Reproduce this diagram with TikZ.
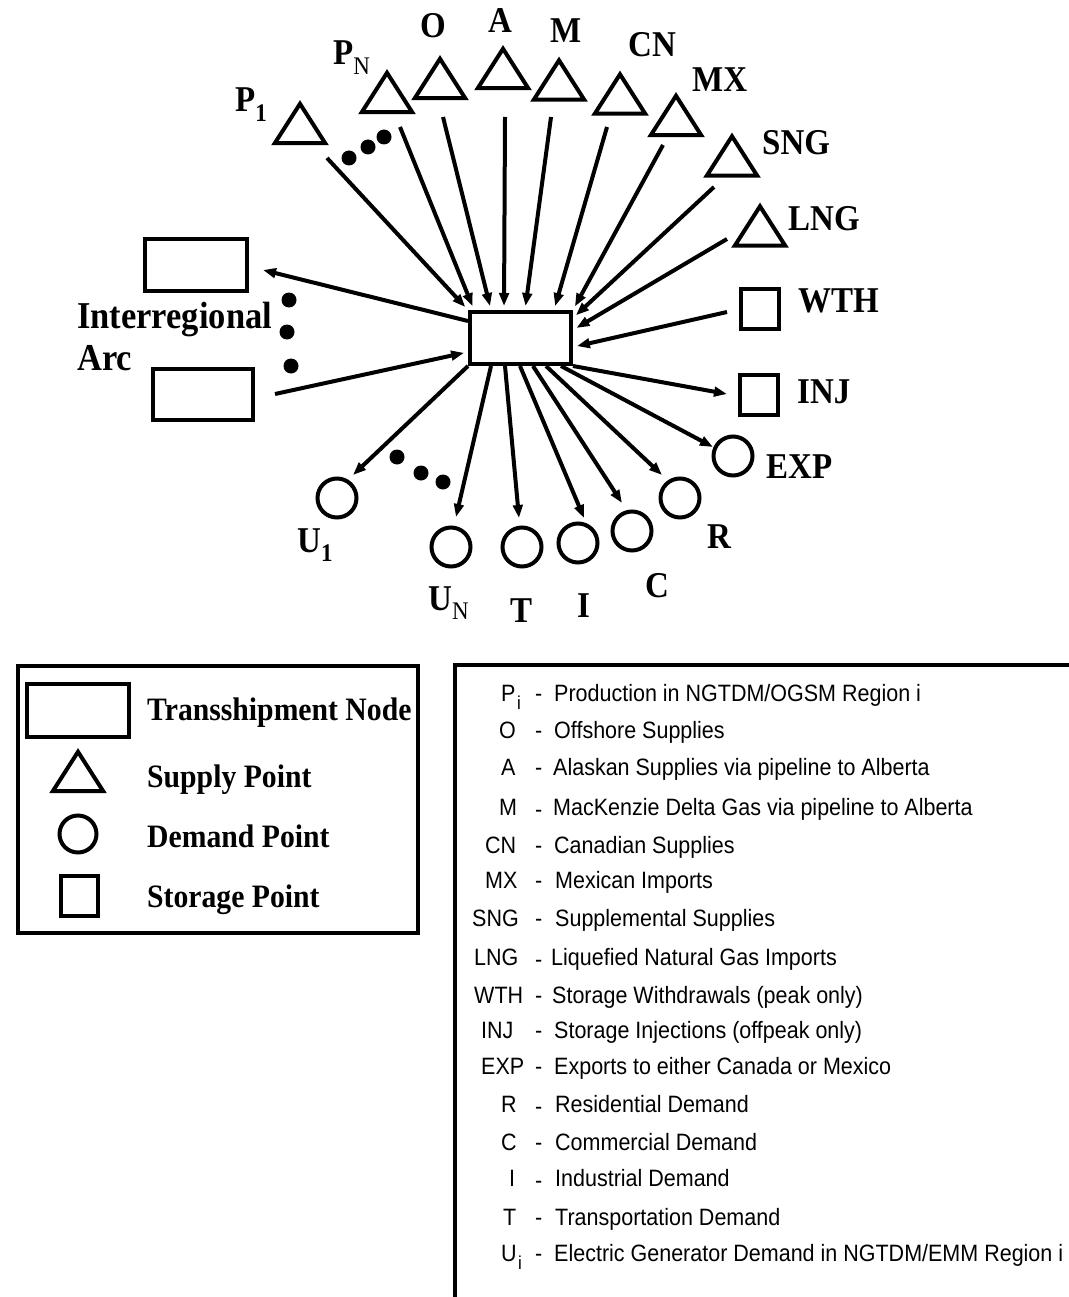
\documentclass[tikz,border=0pt]{standalone}
\usepackage{fontspec}
\setmainfont{Liberation Serif}
\newfontfamily\sansf{Liberation Sans}
\usetikzlibrary{arrows.meta}
\newcommand\vst[1]{\scalebox{1}[1.1]{#1}}
\newcommand\lsub[1]{\raisebox{-9pt}{\fontsize{23}{23}\selectfont #1}}
\newcommand\ssub[1]{\kern1.5pt\raisebox{-8pt}{\fontsize{17}{17}\selectfont #1}}
\begin{document}
\begin{tikzpicture}[x=1pt,y=-1pt,
  shp/.style={draw, line width=4pt, inner sep=0pt, fill=white},
  rbox/.style={shp, rectangle, minimum width=101pt, minimum height=52pt},
  sq/.style={shp, rectangle, minimum width=38pt, minimum height=40pt},
  circ/.style={shp, circle, minimum size=39pt},
  trib/.style={rectangle, inner sep=0pt, minimum width=50pt, minimum height=39pt},
  tri/.style={line width=4pt, line join=miter},
  arr/.style={line width=4pt, -{Triangle[length=13pt,width=9.5pt]}},
  inarr/.style={arr, shorten >=4pt},
  lab/.style={inner sep=0pt, anchor=base west, font=\fontsize{33}{36}\selectfont\bfseries},
  leg/.style={inner sep=0pt, anchor=base west, font=\fontsize{29.7}{32}\selectfont\bfseries},
  abb/.style={inner sep=0pt, anchor=base west, font=\sansf\fontsize{21.5}{24}\selectfont},
  bigdot/.style={circle, fill=black, inner sep=0pt, minimum size=15pt}
]
\useasboundingbox (0,0) rectangle (1068,1297);
\fill[white] (0,0) rectangle (1068,1297);

% central transshipment node
\node[rbox] (T) at (520.5,338) {};

% supply triangles
\foreach \n/\x/\y in {P1/300/123.5, PN/387/92.5, O/440/78.5, A/503/68.5, M/559/80,
  CN/620/94, MX/676/115.5, SNG/732/156, LNG/760/226}{
  \node[trib] (\n) at (\x,\y) {};
  \draw[tri] (\n.south west) -- (\n.north) -- (\n.south east) -- cycle;
}

% interregional boxes
\node[rbox, minimum width=102pt] (IR1) at (196,265) {};
\node[rbox, minimum width=100pt, minimum height=51pt] (IR2) at (203,394.5) {};

% storage
\node[sq] (WTH) at (760,309) {};
\node[sq] (INJ) at (758.5,394.5) {};

% demand circles
\node[circ] (EXP) at (733,456) {};
\node[circ] (Rc) at (680,498) {};
\node[circ] (Cc) at (632,531) {};
\node[circ] (Ic) at (578,543) {};
\node[circ] (Tc) at (522,547) {};
\node[circ] (UN) at (451,547) {};
\node[circ] (U1) at (337,498) {};

% connector free ends
\coordinate (sP1) at (327,158);
\coordinate (sPN) at (400,127);
\coordinate (sO) at (443,117);
\coordinate (sA) at (505,117);
\coordinate (sM) at (551,117);
\coordinate (sCN) at (607,127);
\coordinate (sMX) at (663,145);
\coordinate (sSNG) at (714,187);
\coordinate (sLNG) at (727,239);
\coordinate (sWTH) at (727,312);
\coordinate (sIR2) at (275,394);
\coordinate (eIR1) at (263,270);
\coordinate (eINJ) at (727,394);
\coordinate (eEXP) at (713,447);
\coordinate (eR) at (662,475);
\coordinate (eC) at (622,503);
\coordinate (eI) at (584,518);
\coordinate (eT) at (519,518);
\coordinate (eUN) at (456,517);
\coordinate (eU1) at (353,475);

% inflows
\draw[inarr] (sP1) -- (T.north west);
\draw[inarr] (sPN) -- ([xshift=6pt]T.north west);
\draw[inarr] (sO) -- ([xshift=23pt]T.north west);
\draw[inarr] (sA) -- ([xshift=36pt]T.north west);
\draw[inarr] (sM) -- ([xshift=57pt]T.north west);
\draw[inarr] (sCN) -- ([xshift=86pt]T.north west);
\draw[inarr] (sMX) -- (T.north east);
\draw[inarr] (sSNG) -- ([yshift=-8pt]T.north east);
\draw[inarr] (sLNG) -- ([yshift=-20pt]T.north east);
\draw[inarr] (sWTH) -- ([yshift=-37pt]T.north east);
\draw[inarr] (sIR2) -- ([yshift=-42pt]T.north west);
% outflows
\draw[arr] ([yshift=-11pt]T.north west) -- (eIR1);
\draw[arr] (T.south east) -- (eINJ);
\draw[arr] ([xshift=93pt]T.south west) -- (eEXP);
\draw[arr] ([xshift=78pt]T.south west) -- (eR);
\draw[arr] ([xshift=65pt]T.south west) -- (eC);
\draw[arr] ([xshift=52pt]T.south west) -- (eI);
\draw[arr] ([xshift=37pt]T.south west) -- (eT);
\draw[arr] ([xshift=23pt]T.south west) -- (eUN);
\draw[arr] (T.south west) -- (eU1);

% ellipsis dots
\node[bigdot] (d1) at (349,158) {};
\node[bigdot] (d2) at (368,147) {};
\node[bigdot] (d3) at (384,137) {};
\node[bigdot] (d4) at (289,300) {};
\node[bigdot] (d5) at (287,332) {};
\node[bigdot] (d6) at (291,366) {};
\node[bigdot] (d7) at (397,457) {};
\node[bigdot] (d8) at (421,473) {};
\node[bigdot] (d9) at (443,482) {};

% labels
\node[lab] (lP1) at (235,112) {\vst{P\lsub{1}}};
\node[lab] (lPN) at (333,65) {\vst{P\lsub{\mdseries N}}};
\node[lab] (lO) at (420,38) {\vst{O}};
\node[lab] (lA) at (488,33) {\vst{A}};
\node[lab] (lM) at (550,43) {\vst{M}};
\node[lab] (lCN) at (628,57) {\vst{CN}};
\node[lab] (lMX) at (692,92) {\vst{MX}};
\node[lab] (lSNG) at (762,155) {\vst{SNG}};
\node[lab] (lLNG) at (788,230) {\vst{LNG}};
\node[lab] (lWTH) at (798,312) {\vst{WTH}};
\node[lab] (lINJ) at (797,403) {\vst{INJ}};
\node[lab] (lEXP) at (766,478) {\vst{EXP}};
\node[lab] (lU1) at (297,552) {\vst{U\lsub{1}}};
\node[lab] (lUN) at (428,610) {\vst{U\lsub{\mdseries N}}};
\node[lab] (lT) at (510,622) {\vst{T}};
\node[lab] (lI) at (577,617) {\vst{I}};
\node[lab] (lC) at (645,597) {\vst{C}};
\node[lab] (lR) at (707,548) {\vst{R}};
\node[lab, font=\fontsize{34.5}{38}\selectfont\bfseries] (lIR) at (77,328) {\vst{Interregional}};
\node[lab, font=\fontsize{34.5}{38}\selectfont\bfseries] (lArc) at (77,370) {\vst{Arc}};

% left legend
\node[draw, line width=4pt, inner sep=0pt, minimum width=400pt, minimum height=267pt] (key) at (218,799.5) {};
\node[rbox, minimum width=102pt, minimum height=53pt] (kT) at (78,710.5) {};
\node[trib] (kS) at (78,771.5) {};
\draw[tri] (kS.south west) -- (kS.north) -- (kS.south east) -- cycle;
\node[circ, minimum size=37pt] (kD) at (78,834) {};
\node[sq, minimum width=37pt] (kSt) at (79.5,896) {};
\node[leg] (tT) at (147,720) {\vst{Transshipment Node}};
\node[leg] (tS) at (147,787) {\vst{Supply Point}};
\node[leg] (tD) at (147,847) {\vst{Demand Point}};
\node[leg] (tSt) at (147,907) {\vst{Storage Point}};

% right legend frame
\draw[line width=4pt] (1080,665) -- (455,665) -- (455,1310);

% right legend rows
\foreach \k/\ax/\yy/\dd/\txt in {
  a/501/701/0/{P\ssub{i}}, b/499/738/0/{O}, c/501/775/0/{A}, d/499/815/2/{M},
  e/485/853/0/{CN}, f/485/888/0/{MX}, g/472/926/0/{SNG}, h/474/965/2/{LNG},
  i/474/1003/0/{WTH}, j/481/1038/0/{INJ}, k/481/1074/0/{EXP}, l/501/1112/2/{R},
  m/501/1150/0/{C}, n/509/1186/2/{I}, o/503/1225/0/{T}, p/501/1261/0/{U\ssub{i}}}{
  \node[abb] (ab\k) at (\ax,\yy) {\vst{\txt}};
  \node[abb] (da\k) at (535,\yy+\dd) {\vst{-}};
}
\node[abb] (dsa) at (554,701) {\vst{Production in NGTDM/OGSM Region i}};
\node[abb] (dsb) at (554,738) {\vst{Offshore Supplies}};
\node[abb] (dsc) at (553,775) {\vst{Alaskan Supplies via pipeline to Alberta}};
\node[abb] (dsd) at (553,815) {\vst{MacKenzie Delta Gas via pipeline to Alberta}};
\node[abb] (dse) at (554,853) {\vst{Canadian Supplies}};
\node[abb] (dsf) at (555,888) {\vst{Mexican Imports}};
\node[abb] (dsg) at (555,926) {\vst{Supplemental Supplies}};
\node[abb] (dsh) at (551,965) {\vst{Liquefied Natural Gas Imports}};
\node[abb] (dsi) at (552,1003) {\vst{Storage Withdrawals (peak only)}};
\node[abb] (dsj) at (554,1038) {\vst{Storage Injections (offpeak only)}};
\node[abb] (dsk) at (554,1074) {\vst{Exports to either Canada or Mexico}};
\node[abb] (dsl) at (555,1112) {\vst{Residential Demand}};
\node[abb] (dsm) at (555,1150) {\vst{Commercial Demand}};
\node[abb] (dsn) at (555,1186) {\vst{Industrial Demand}};
\node[abb] (dso) at (555,1225) {\vst{Transportation Demand}};
\node[abb] (dsp) at (554,1261) {\vst{Electric Generator Demand in NGTDM/EMM Region i}};
\end{tikzpicture}
\end{document}
